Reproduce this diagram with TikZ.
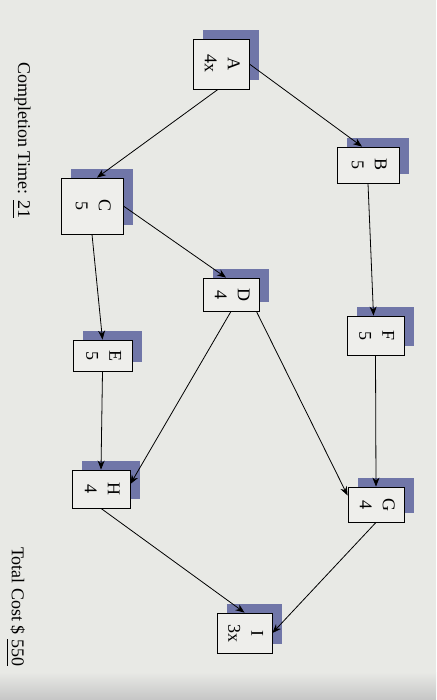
\documentclass[tikz,border=0pt]{standalone}
\usepackage{fontspec}
\setmainfont{Liberation Serif}
\usetikzlibrary{arrows.meta}
\definecolor{bgc}{RGB}{232,233,229}
\definecolor{boxfill}{RGB}{238,238,235}
\definecolor{shadowc}{RGB}{112,118,168}
\newcommand\nodelbl[2]{\rotatebox{-90}{\begin{tabular}{@{}c@{}}#1\\#2\end{tabular}}}
\newcommand\myul[1]{\setbox0\hbox{#1}\rlap{\raisebox{-5pt}{\rule{\wd0}{0.8pt}}}#1}
\pgfdeclarelayer{background}
\pgfsetlayers{background,main}
\tikzset{
  box/.style={draw=black, line width=0.8pt, fill=boxfill, inner sep=0pt,
    font=\fontsize{18}{23}\selectfont},
  arr/.style={draw=black, line width=0.8pt, -{Stealth[length=9pt,width=7pt]}},
  note/.style={rotate=-90, inner sep=0pt, anchor=base west, font=\fontsize{18}{20}\selectfont}
}
\begin{document}
\begin{tikzpicture}[x=1pt,y=-1pt]
\useasboundingbox (0,0) rectangle (436,700);

\node[box, minimum width=56pt, minimum height=50pt] (A) at (221,64) {\nodelbl{A}{4x}};
\node[box, minimum width=62pt, minimum height=36pt] (B) at (368,165) {\nodelbl{B}{5}};
\node[box, minimum width=62pt, minimum height=56pt] (C) at (92,206) {\nodelbl{C}{5}};
\node[box, minimum width=56pt, minimum height=33pt] (D) at (231,294.5) {\nodelbl{D}{4}};
\node[box, minimum width=59pt, minimum height=31pt] (E) at (102.5,355.5) {\nodelbl{E}{5}};
\node[box, minimum width=57pt, minimum height=39pt] (F) at (375.5,335.5) {\nodelbl{F}{5}};
\node[box, minimum width=56pt, minimum height=35pt] (G) at (376,504.5) {\nodelbl{G}{4}};
\node[box, minimum width=58pt, minimum height=38pt] (H) at (101,489) {\nodelbl{H}{4}};
\node[box, minimum width=55pt, minimum height=40pt] (I) at (244.5,633) {\nodelbl{I}{3x}};

\begin{pgfonlayer}{background}
\fill[bgc] (0,0) rectangle (436,700);
\shade[top color=bgc, bottom color=gray!45] (0,672) rectangle (436,700);
\foreach \n in {A,B,C,D,E,F,G,H,I}{
  \fill[shadowc] ([shift={(10pt,9pt)}]\n.south west) rectangle ([shift={(10pt,9pt)}]\n.north east);
}
\end{pgfonlayer}

\draw[arr] (A.east) -- ([xshift=-6pt]B.north);
\draw[arr] ([xshift=-3pt]A.south) -- ([xshift=5pt]C.north);
\draw[arr] (B.south) -- ([xshift=-2pt]F.north);
\draw[arr] (C.east) -- ([xshift=-5pt]D.north);
\draw[arr] (C.south) -- (E.north);
\draw[arr] (D.south) -- ([yshift=5pt]H.east);
\draw[arr] ([xshift=-3pt]D.south east) -- ([yshift=9pt]G.west);
\draw[arr] (F.south) -- (G.north);
\draw[arr] (E.south) -- (H.north);
\draw[arr] (G.south) -- (I.east);
\draw[arr] (H.south) -- (I.north);

\node[note] (ct) at (18,62) {Completion Time: \myul{21}};
\node[note] (tc) at (12,547) {Total Cost \$ \myul{550}};
\end{tikzpicture}
\end{document}
